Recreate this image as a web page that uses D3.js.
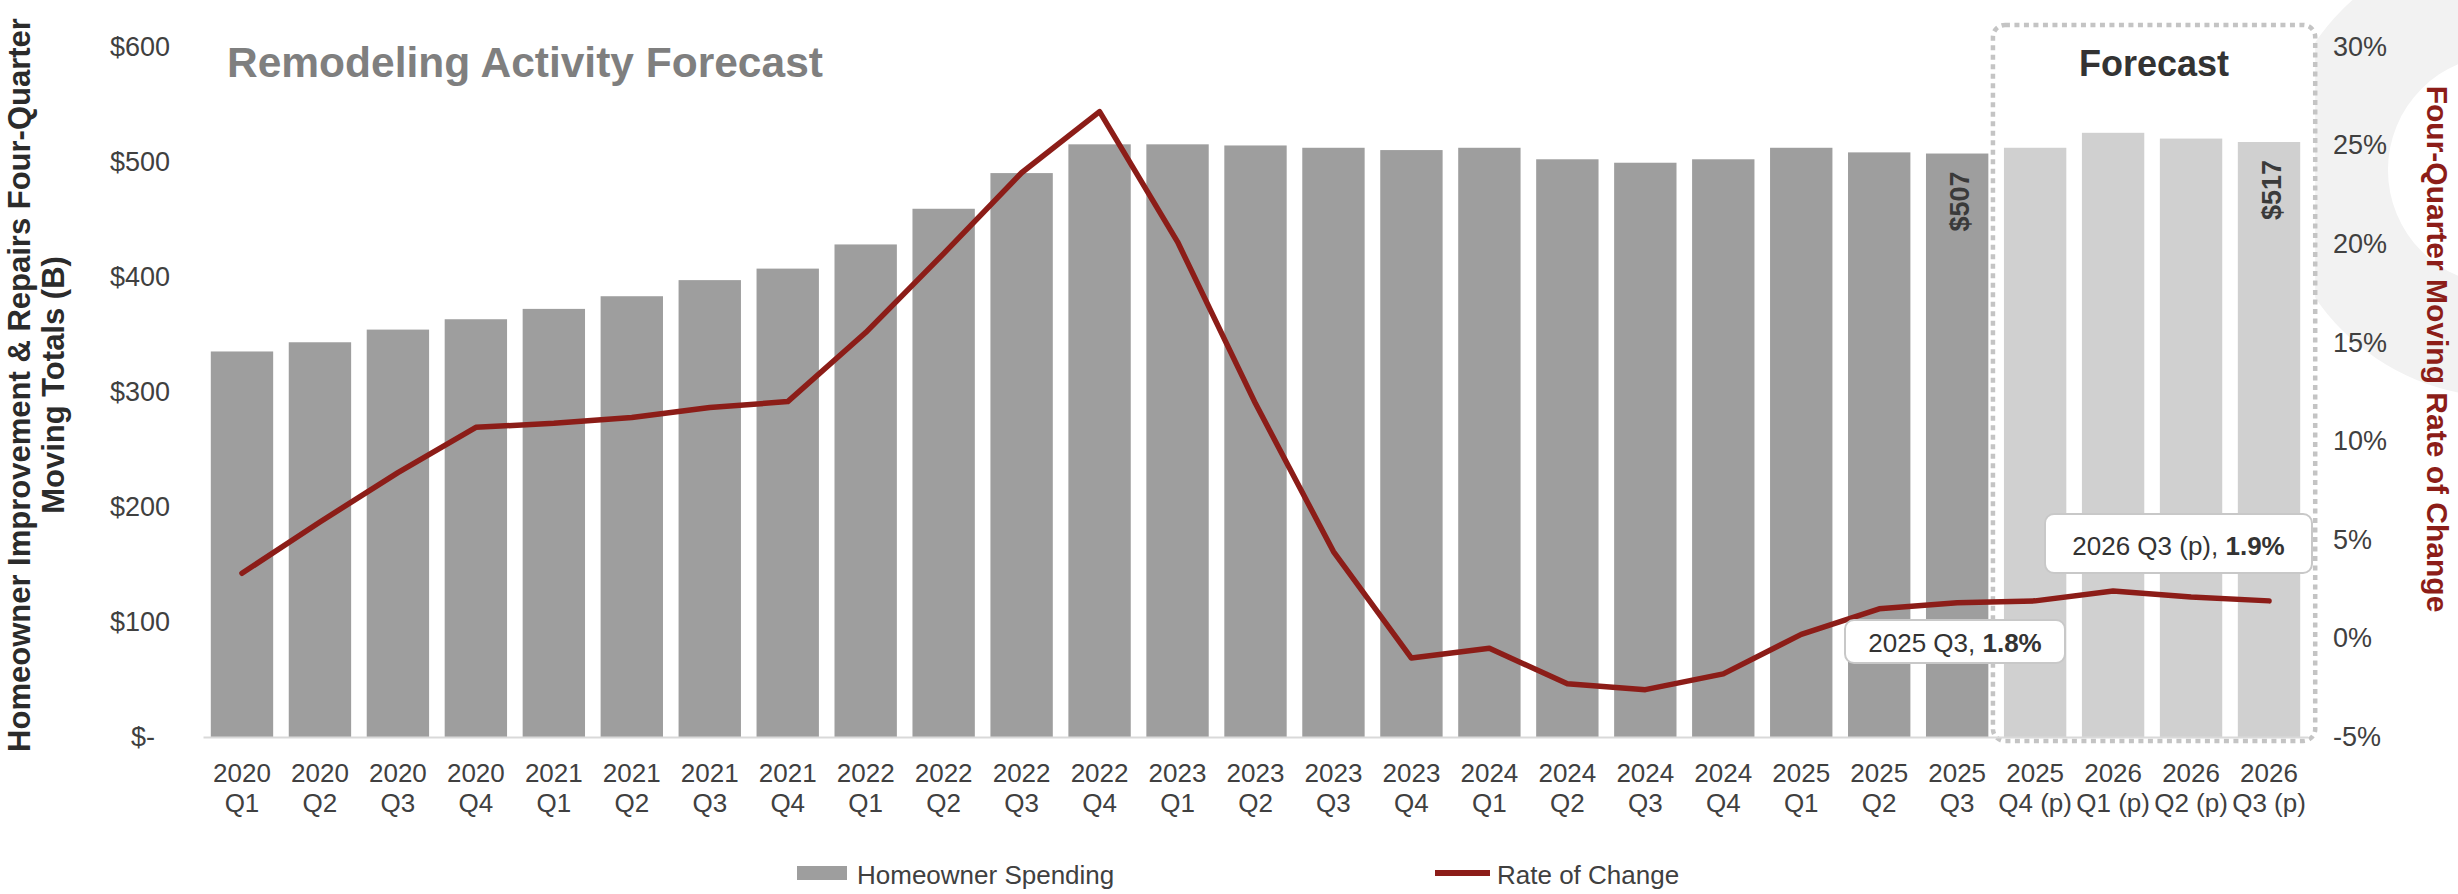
<!DOCTYPE html>
<html>
<head>
<meta charset="utf-8">
<script src="https://cdn.jsdelivr.net/npm/d3@7"></script>
<style>
  html, body { margin: 0; padding: 0; background: #ffffff; }
  svg { display: block; font-family: "Liberation Sans", Arial, sans-serif; }
</style>
</head>
<body>
<svg id="chart" width="2458" height="894"></svg>
<script>
// ---------- DATA ----------
const categories = [
  "2020 Q1","2020 Q2","2020 Q3","2020 Q4",
  "2021 Q1","2021 Q2","2021 Q3","2021 Q4",
  "2022 Q1","2022 Q2","2022 Q3","2022 Q4",
  "2023 Q1","2023 Q2","2023 Q3","2023 Q4",
  "2024 Q1","2024 Q2","2024 Q3","2024 Q4",
  "2025 Q1","2025 Q2","2025 Q3",
  "2025 Q4 (p)","2026 Q1 (p)","2026 Q2 (p)","2026 Q3 (p)"
];
const spending = [
  335, 343, 354, 363,
  372, 383, 397, 407,
  428, 459, 490, 515,
  515, 514, 512, 510,
  512, 502, 499, 502,
  512, 508, 507,
  512, 525, 520, 517
];
const rateOfChange = [
  3.3, 5.9, 8.4, 10.7,
  10.9, 11.2, 11.7, 12.0,
  15.5, 19.5, 23.6, 26.7,
  20.1, 11.9, 4.4, -1.0,
  -0.5, -2.3, -2.6, -1.8,
  0.2, 1.5, 1.8,
  1.9, 2.4, 2.1, 1.9
];
const leftTicks = [0, 100, 200, 300, 400, 500, 600];
const rightTicks = [-5, 0, 5, 10, 15, 20, 25, 30];
const barLabels = [
  { cat: "2025 Q3", text: "$507" },
  { cat: "2026 Q3 (p)", text: "$517" }
];
const callouts = [
  { cat: "2025 Q3", label: "2025 Q3, ", value: "1.8%" },
  { cat: "2026 Q3 (p)", label: "2026 Q3 (p), ", value: "1.9%" }
];
const titleText = "Remodeling Activity Forecast";
const leftTitle = ["Homeowner Improvement & Repairs Four-Quarter", "Moving Totals (B)"];
const rightTitle = "Four-Quarter Moving Rate of Change";
const legendItems = ["Homeowner Spending", "Rate of Change"];

// ---------- STYLE ----------
const barColor = "#9e9e9e";
const forecastColor = "#d0d0d0";
const lineColor = "#8c1d18";
const textColor = "#404040";

const svg = d3.select("#chart");

// scales
const x = d3.scaleBand().domain(categories).range([203, 2308]).paddingInner(0.2).paddingOuter(0.1);
const yL = d3.scaleLinear().domain([0, 600]).range([737, 46.5]);
const yR = d3.scaleLinear().domain([-5, 30]).range([737, 46.5]);
const isForecast = c => c.indexOf("(p)") >= 0;

// watermark ring
const ring = d3.arc().innerRadius(115).outerRadius(227).startAngle(0).endAngle(2 * Math.PI);
svg.append("path").attr("d", ring()).attr("transform", "translate(2503,170)").attr("fill", "#f2f2f2");

// forecast box
const fcats = categories.filter(isForecast);
const fx0 = x(fcats[0]) - 11, fx1 = x(fcats[fcats.length - 1]) + x.bandwidth() + 15;
svg.append("rect")
  .attr("x", fx0).attr("y", 25).attr("width", fx1 - fx0).attr("height", 741 - 25)
  .attr("rx", 12).attr("ry", 12)
  .attr("fill", "#ffffff").attr("stroke", "#c4c4c4").attr("stroke-width", 4.5)
  .attr("stroke-dasharray", "5 4.5");

svg.append("text").attr("x", (fx0 + fx1) / 2).attr("y", 76)
  .attr("text-anchor", "middle").attr("font-size", 36).attr("font-weight", "bold")
  .attr("fill", "#333333").text("Forecast");

// title
svg.append("text").attr("x", 227).attr("y", 77)
  .attr("font-size", 42.5).attr("font-weight", "bold").attr("fill", "#7f7f7f")
  .text(titleText);

// bars
svg.append("g").selectAll("rect").data(categories).join("rect")
  .attr("x", d => x(d)).attr("width", x.bandwidth())
  .attr("y", (d, i) => yL(spending[i]))
  .attr("height", (d, i) => yL(0) - yL(spending[i]))
  .attr("fill", d => isForecast(d) ? forecastColor : barColor);

// x axis
const xAxis = svg.append("g").attr("transform", `translate(0,${yL(0)})`)
  .call(d3.axisBottom(x).tickSize(0).tickSizeOuter(0).tickFormat(""));
xAxis.select(".domain").attr("stroke", "#d9d9d9").attr("stroke-width", 2);
xAxis.selectAll(".tick").each(function(d) {
  const sp = d.indexOf(" ");
  const t = d3.select(this).append("text").attr("fill", textColor)
    .attr("font-size", 26).attr("text-anchor", "middle");
  t.append("tspan").attr("x", 0).attr("y", 45).text(d.slice(0, sp));
  t.append("tspan").attr("x", 0).attr("y", 75).text(d.slice(sp + 1));
});

// left axis
const lAxis = svg.append("g").attr("transform", "translate(170,0)")
  .call(d3.axisLeft(yL).tickValues(leftTicks).tickSize(0).tickPadding(0)
    .tickFormat(d => d === 0 ? "$-" : "$" + d));
lAxis.select(".domain").remove();
lAxis.selectAll("text").attr("font-size", 27).attr("fill", textColor)
  .attr("font-family", "'Liberation Sans', Arial, sans-serif")
  .attr("x", d => d === 0 ? -15 : 0);

// right axis
const rAxis = svg.append("g").attr("transform", "translate(2333,0)")
  .call(d3.axisRight(yR).tickValues(rightTicks).tickSize(0).tickPadding(0)
    .tickFormat(d => d + "%"));
rAxis.select(".domain").remove();
rAxis.selectAll("text").attr("font-size", 27).attr("fill", textColor)
  .attr("font-family", "'Liberation Sans', Arial, sans-serif");

// line
const line = d3.line()
  .x((d, i) => x(categories[i]) + x.bandwidth() / 2)
  .y(d => yR(d));
svg.append("path").datum(rateOfChange).attr("d", line)
  .attr("fill", "none").attr("stroke", lineColor).attr("stroke-width", 5.5)
  .attr("stroke-linejoin", "round").attr("stroke-linecap", "round");

// bar value labels (rotated)
barLabels.forEach(b => {
  const i = categories.indexOf(b.cat);
  const cx = x(b.cat) + x.bandwidth() / 2 + 12;
  const top = yL(spending[i]) + 18;
  svg.append("text").attr("transform", `translate(${cx},${top}) rotate(-90)`)
    .attr("text-anchor", "end").attr("font-size", 27).attr("font-weight", "bold")
    .attr("fill", "#3a3a3a").text(b.text);
});

// callouts
const calloutBoxes = [
  { x0: 1845, x1: 2065, y0: 620, y1: 663, base: 652 },
  { x0: 2045, x1: 2312, y0: 514, y1: 573, base: 555 }
];
callouts.forEach((c, k) => {
  const b = calloutBoxes[k];
  svg.append("rect").attr("x", b.x0).attr("y", b.y0)
    .attr("width", b.x1 - b.x0).attr("height", b.y1 - b.y0)
    .attr("rx", 9).attr("ry", 9)
    .attr("fill", "#ffffff").attr("stroke", "#c8c8c8").attr("stroke-width", 2);
  const t = svg.append("text").attr("x", (b.x0 + b.x1) / 2).attr("y", b.base)
    .attr("text-anchor", "middle").attr("font-size", 26).attr("fill", "#333333");
  t.append("tspan").text(c.label);
  t.append("tspan").attr("font-weight", "bold").text(c.value);
});

// left axis title
const lt = svg.append("text").attr("transform", "translate(0,385) rotate(-90)")
  .attr("text-anchor", "middle").attr("font-size", 31).attr("font-weight", "bold")
  .attr("fill", "#2b2b2b");
lt.append("tspan").attr("x", 0).attr("y", 30).text(leftTitle[0]);
lt.append("tspan").attr("x", 0).attr("y", 64).text(leftTitle[1]);

// right axis title
svg.append("text").attr("transform", "translate(2427,349) rotate(90)")
  .attr("text-anchor", "middle").attr("font-size", 30).attr("font-weight", "bold")
  .attr("fill", lineColor).text(rightTitle);

// legend
const lg = svg.append("g");
lg.append("rect").attr("x", 797).attr("y", 866).attr("width", 50).attr("height", 14).attr("fill", barColor);
lg.append("text").attr("x", 857).attr("y", 884).attr("font-size", 26).attr("fill", textColor).text(legendItems[0]);
lg.append("line").attr("x1", 1435).attr("x2", 1490).attr("y1", 873).attr("y2", 873)
  .attr("stroke", lineColor).attr("stroke-width", 6);
lg.append("text").attr("x", 1497).attr("y", 884).attr("font-size", 26).attr("fill", textColor).text(legendItems[1]);
</script>
</body>
</html>
